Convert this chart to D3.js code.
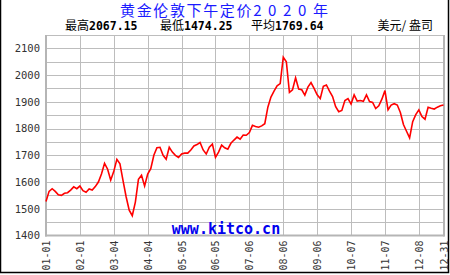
<!DOCTYPE html>
<html>
<head>
<meta charset="utf-8">
<script src="https://cdn.jsdelivr.net/npm/d3@7"></script>
<style>
  body { margin: 0; background: #fff; }
  svg { display: block; }
  .mono { font-family: "DejaVu Sans Mono", monospace; }
  .cjk { font-family: "Noto Sans CJK SC", sans-serif; }
</style>
</head>
<body>
<svg></svg>
<script>
// London PM fix 2020, roughly one value per two trading days
var prices = [
  1527, 1565, 1575, 1565, 1552, 1550, 1558, 1560, 1570, 1582,
  1575, 1585, 1568, 1562, 1574, 1570, 1583, 1600, 1630, 1670,
  1648, 1607, 1640, 1685, 1668, 1605, 1545, 1495, 1474, 1525,
  1610, 1625, 1585, 1630, 1650, 1700, 1728, 1730, 1700, 1685,
  1730, 1712, 1700, 1692, 1705, 1708, 1708, 1720, 1735, 1740,
  1748, 1720, 1705, 1730, 1742, 1692, 1712, 1738, 1728, 1723,
  1745, 1757, 1768, 1760, 1776, 1775, 1785, 1812, 1808, 1805,
  1810, 1818, 1880, 1918, 1940, 1960, 1968, 2067, 2050, 1935,
  1945, 1990, 1948, 1945, 1925, 1955, 1972, 1950, 1926, 1912,
  1958, 1963, 1940, 1920, 1882, 1863, 1868, 1905, 1912, 1892,
  1926, 1903, 1905, 1902, 1926, 1901, 1898, 1875, 1885, 1910,
  1942, 1870, 1888, 1893, 1888, 1860, 1815, 1790, 1765, 1826,
  1852, 1870, 1845, 1835, 1880, 1876, 1873, 1880, 1885, 1888
];

var xTickIndex = [0, 11, 22, 33, 44, 55, 66, 77, 88, 99, 110, 121, 129];
var xTickLabels = ['01-01', '02-01', '03-04', '04-04', '05-05', '06-05', '07-06',
                   '08-06', '09-06', '10-07', '11-07', '12-08', '12-31'];
var yTicks = [1400, 1500, 1600, 1700, 1800, 1900, 2000, 2100];
var yGrid = [1450, 1500, 1550, 1600, 1650, 1700, 1750, 1800, 1850, 1900, 1950, 2000, 2050, 2100];

var title = '黄金伦敦下午定价2 0 2 0 年';
var stats = [['最高', '2067.15'], ['最低', '1474.25'], ['平均', '1769.64']];
var unit = '美元/ 盎司';

var W = 450, H = 275;
var pL = 46, pR = 443.5, pT = 35, pB = 235.5;

var svg = d3.select('svg')
    .attr('width', W)
    .attr('height', H);

var x = d3.scaleLinear().domain([0, prices.length - 1]).range([pL, pR]);
var y = d3.scaleLinear().domain([1400, 2150]).range([pB, pT]);

// outer frame
svg.append('rect')
    .attr('x', 0.5).attr('y', -2)
    .attr('width', W - 2).attr('height', H - 0.5)
    .attr('fill', 'none')
    .attr('stroke', '#000')
    .attr('stroke-width', 1.5);

// grid
var grid = svg.append('g').attr('stroke', '#bdbdbd').attr('stroke-width', 1);
grid.selectAll('.h').data(yGrid).enter().append('line')
    .attr('x1', pL).attr('x2', pR)
    .attr('y1', d => Math.round(y(d)) + 0.5)
    .attr('y2', d => Math.round(y(d)) + 0.5);
grid.selectAll('.v').data(xTickIndex.slice(1, -1)).enter().append('line')
    .attr('y1', pT).attr('y2', pB)
    .attr('x1', d => Math.round(x(d)) + 0.5)
    .attr('x2', d => Math.round(x(d)) + 0.5);

// plot border
svg.append('line').attr('x1', pL).attr('x2', pR).attr('y1', pT + 0.5).attr('y2', pT + 0.5)
    .attr('stroke', '#bdbdbd');
svg.append('line').attr('x1', pL - 1).attr('x2', pR + 1).attr('y1', pB).attr('y2', pB)
    .attr('stroke', '#b5b5b5').attr('stroke-width', 2);
svg.append('line').attr('x1', pL).attr('x2', pL).attr('y1', pT).attr('y2', pB + 1)
    .attr('stroke', '#b5b5b5').attr('stroke-width', 2);
svg.append('line').attr('x1', pR + 0.5).attr('x2', pR + 0.5).attr('y1', pT).attr('y2', pB + 1)
    .attr('stroke', '#b5b5b5').attr('stroke-width', 2);

// y labels
var yAxis = svg.append('g')
    .attr('transform', 'translate(' + (pL - 5) + ',0)')
    .call(d3.axisLeft(y).tickValues(yTicks).tickFormat(d3.format('d')).tickSize(0).tickPadding(1));
yAxis.select('.domain').remove();
yAxis.selectAll('text')
    .attr('class', 'mono')
    .attr('font-size', 10.5)
    .attr('fill', '#333');

// x labels
svg.append('g').selectAll('text').data(xTickIndex).enter().append('text')
    .attr('class', 'mono')
    .attr('font-size', 10)
    .attr('fill', '#333')
    .attr('text-anchor', 'end')
    .attr('transform', d => 'translate(' + (x(d) + 4) + ',' + (pB + 5) + ') rotate(-90)')
    .text((d, i) => xTickLabels[i]);

// watermark
svg.append('text')
    .attr('class', 'mono')
    .attr('x', 226).attr('y', 234)
    .attr('text-anchor', 'middle')
    .attr('font-size', 15)
    .attr('font-weight', 'bold')
    .attr('fill', '#0000ee')
    .text('www.kitco.cn');

// price line
svg.append('path')
    .datum(prices)
    .attr('fill', 'none')
    .attr('stroke', '#ff0000')
    .attr('stroke-width', 1.6)
    .attr('stroke-linejoin', 'miter')
    .attr('d', d3.line().x((d, i) => x(i)).y(d => y(d)));

// title
svg.append('text')
    .attr('class', 'cjk')
    .attr('x', 120).attr('y', 16)
    .attr('textLength', 208)
    .attr('lengthAdjust', 'spacing')
    .attr('font-size', 15)
    .attr('fill', '#1a1aff')
    .text(title);

// stats line
var statX = [65, 160, 251];
stats.forEach(function(s, i) {
    var t = svg.append('text').attr('x', statX[i]).attr('y', 30);
    t.append('tspan').attr('class', 'cjk').attr('font-size', 12).text(s[0]);
    t.append('tspan').attr('class', 'mono').attr('font-size', 11.5)
        .attr('font-weight', 'bold').text(s[1]);
});
svg.append('text')
    .attr('class', 'cjk')
    .attr('x', 433).attr('y', 30)
    .attr('text-anchor', 'end')
    .attr('font-size', 12)
    .text(unit);
</script>
</body>
</html>
